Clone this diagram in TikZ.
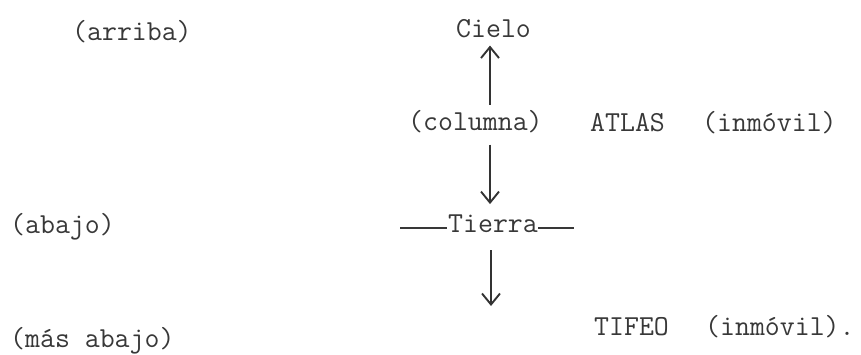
\documentclass[tikz,border=0pt]{standalone}
\usetikzlibrary{arrows.meta}
\begin{document}
\begin{tikzpicture}[x=1pt,y=-1pt,
  txt/.style={inner sep=0pt,anchor=base west,text=black!78,font=\ttfamily\fontsize{29}{35}\selectfont},
  arr/.style={draw=black!80,line width=1.9pt,-{Straight Barb[length=11pt,width=18pt,line width=1.9pt]}},
  rule/.style={draw=black!78,line width=1.6pt}]
\useasboundingbox (0,0) rectangle (861,354);
\coordinate (ax) at (490,0);
\node[txt] (arriba) at (72,40) {(arriba)};
\node[txt] (cielo) at (456,37) {Cielo};
\node[txt] (col) at (408,130) {(columna)};
\node[txt] (atlas) at (590,131) {ATLAS};
\node[txt] (inm1) at (702,131) {(inmóvil)};
\node[txt] (abajo) at (10,233) {(abajo)};
\node[txt] (tierra) at (448,232) {Tierra};
\node[txt] (mas) at (10,347) {(más abajo)};
\node[txt] (tifeo) at (594,335) {TIFEO};
\node[txt] (inm2) at (705,335) {(inmóvil).};
\coordinate (end2) at (491,306);
% connectors
\draw[arr,shorten >=8pt,shorten <=5pt] (col.north -| ax) -- (cielo.south -| ax);
\draw[arr,shorten <=12pt,shorten >=10pt] (col.south -| ax) -- (tierra.north -| ax);
\draw[arr,shorten <=18pt] (tierra.south -| end2) -- (end2);
\draw[rule] ([shift={(-48,-4)}]tierra.base west) -- ([shift={(-1,-4)}]tierra.base west);
\draw[rule] ([shift={(0,-4)}]tierra.base east) -- ([shift={(36,-4)}]tierra.base east);
\end{tikzpicture}
\end{document}
